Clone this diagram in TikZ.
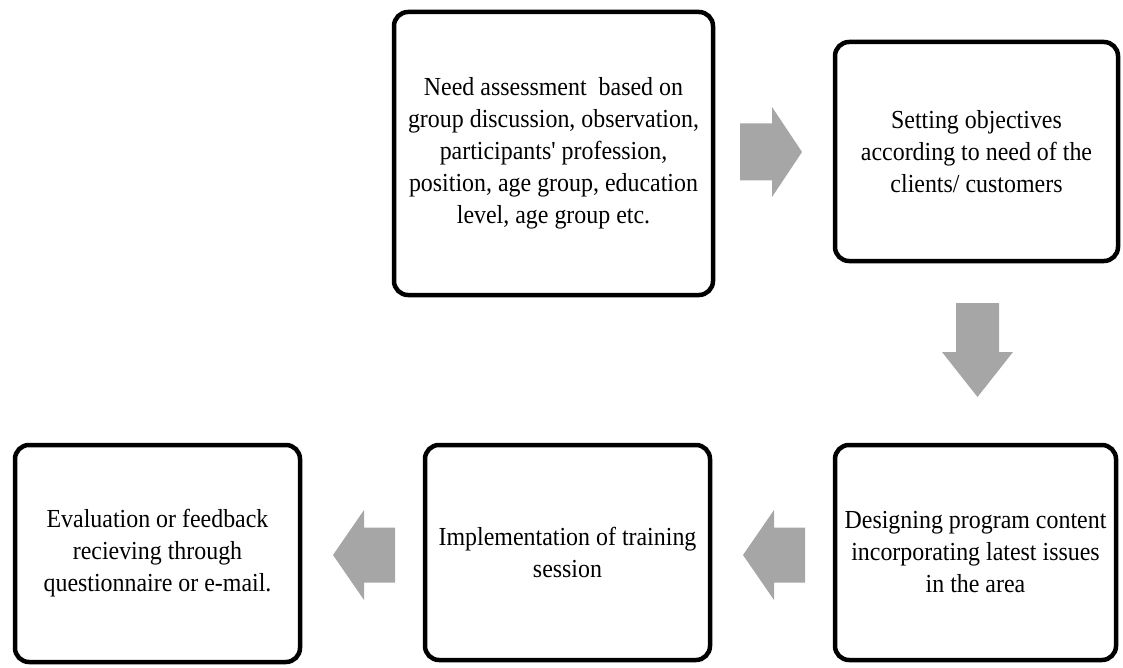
\documentclass[tikz,border=0pt]{standalone}
\usepackage{fontspec}
\setmainfont{Liberation Serif}[FakeStretch=0.92, Ligatures=TeXOff]
\begin{document}
\begin{tikzpicture}[x=1pt,y=-1pt,
  stepbox/.style={draw=black, line width=4.5pt, rounded corners=14pt, fill=white,
    align=center, inner sep=0pt, font=\fontsize{26}{32}\selectfont},
  blockarrow/.style={fill=arrowgray, draw=none}]
\definecolor{arrowgray}{RGB}{166,166,166}
\useasboundingbox (0,0) rectangle (1123,668);

% process steps
\node[stepbox, minimum width=319pt, minimum height=283pt] (assess) at (553.5,153.5)
  {Need assessment\ \ based on\\group discussion, observation,\\participants' profession,\\position, age group, education\\level, age group etc.};
\node[stepbox, minimum width=283pt, minimum height=219pt] (objectives) at (976.5,151.5)
  {Setting objectives\\according to need of the\\clients/ customers};
\node[stepbox, minimum width=281pt, minimum height=215pt] (design) at (975.5,552.5)
  {Designing program content\\incorporating latest issues\\in the area};
\node[stepbox, minimum width=285pt, minimum height=215pt] (implement) at (567.5,552.5)
  {Implementation of training\\session};
\node[stepbox, minimum width=285pt, minimum height=217pt] (evaluate) at (157.5,553.5)
  {Evaluation or feedback\\recieving through\\questionnaire or e-mail.};

% block arrows between the steps
\fill[blockarrow] (740,123.5) -- (772,123.5) -- (772,107) -- (802,152) -- (772,197) -- (772,180.5) -- (740,180.5) -- cycle;
\fill[blockarrow] (956,303) -- (999,303) -- (999,352) -- (1013,352) -- (977.5,397) -- (942,352) -- (956,352) -- cycle;
\fill[blockarrow] (805,527.5) -- (774,527.5) -- (774,510) -- (743,555) -- (774,600) -- (774,582.5) -- (805,582.5) -- cycle;
\fill[blockarrow] (395,527.5) -- (364,527.5) -- (364,510) -- (333,555) -- (364,600) -- (364,582.5) -- (395,582.5) -- cycle;
\end{tikzpicture}
\end{document}
